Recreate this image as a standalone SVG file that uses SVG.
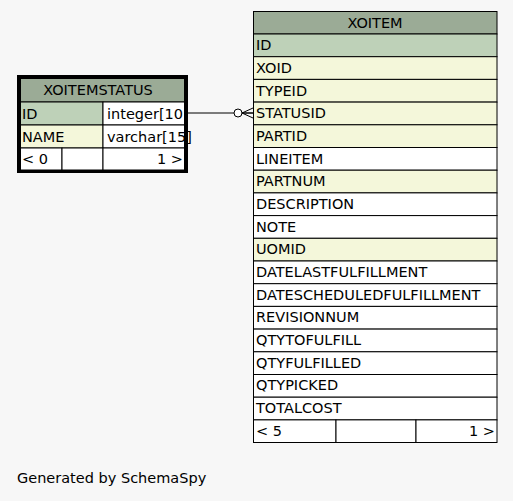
<svg xmlns="http://www.w3.org/2000/svg" width="513" height="501" viewBox="0 0 513 501">
<style>
text{font-family:"DejaVu Sans","Noto Sans",sans-serif;font-size:14.5px;fill:#000}
.c{stroke:#000;stroke-width:1}
.h{fill:#9bab96}
.k{fill:#bed1b8}
.y{fill:#f4f7da}
.w{fill:#fff}
.m{text-anchor:middle}
.r{text-anchor:end}
</style>
<rect width="513" height="501" fill="#f7f7f7"/>
<g id="connectors">
<line x1="187" y1="113" x2="253" y2="113" stroke="#000"/>
<circle cx="238" cy="113" r="4" fill="#fff" stroke="#000"/>
<path d="M242,113 L253,108 M242,113 L253,118 M242,113 L253,113" stroke="#000" fill="none"/>
</g>
<g id="XOITEMSTATUS">
<rect x="18.5" y="76.5" width="168" height="95" fill="none" stroke="#000" stroke-width="3"/>
<rect class="c h" x="20.5" y="78.5" width="164" height="23.5"/>
<text class="m" x="98" y="95">XOITEMSTATUS</text>
<rect class="c k" x="20.5" y="102" width="82.5" height="23"/>
<rect class="c w" x="103" y="102" width="81.5" height="23"/>
<text x="22" y="119">ID</text>
<text x="107" y="119">integer[10</text>
<rect class="c y" x="20.5" y="125" width="82.5" height="23"/>
<rect class="c w" x="103" y="125" width="81.5" height="23"/>
<text x="22" y="142">NAME</text>
<text x="107" y="142">varchar[15]</text>
<rect class="c w" x="20.5" y="148" width="41.5" height="22"/>
<rect class="c w" x="62" y="148" width="41" height="22"/>
<rect class="c w" x="103" y="148" width="81.5" height="22"/>
<text x="22" y="164">&lt; 0</text>
<text class="r" x="183" y="164">1 &gt;</text>
</g>
<g id="XOITEM">
<rect class="c h" x="253.5" y="11.5" width="243.5" height="22.5"/>
<text class="m" x="375" y="28">XOITEM</text>
<rect class="c k" x="253.5" y="34" width="243.5" height="22.7"/>
<text x="256" y="50">ID</text>
<rect class="c y" x="253.5" y="56.7" width="243.5" height="22.7"/>
<text x="256" y="73">XOID</text>
<rect class="c y" x="253.5" y="79.4" width="243.5" height="22.7"/>
<text x="256" y="96">TYPEID</text>
<rect class="c y" x="253.5" y="102.1" width="243.5" height="22.7"/>
<text x="256" y="118">STATUSID</text>
<rect class="c y" x="253.5" y="124.8" width="243.5" height="22.7"/>
<text x="256" y="141">PARTID</text>
<rect class="c w" x="253.5" y="147.5" width="243.5" height="22.7"/>
<text x="256" y="164">LINEITEM</text>
<rect class="c y" x="253.5" y="170.2" width="243.5" height="22.7"/>
<text x="256" y="186">PARTNUM</text>
<rect class="c w" x="253.5" y="192.9" width="243.5" height="22.7"/>
<text x="256" y="209">DESCRIPTION</text>
<rect class="c w" x="253.5" y="215.6" width="243.5" height="22.7"/>
<text x="256" y="232">NOTE</text>
<rect class="c y" x="253.5" y="238.3" width="243.5" height="22.7"/>
<text x="256" y="254">UOMID</text>
<rect class="c w" x="253.5" y="261" width="243.5" height="22.7"/>
<text x="256" y="277">DATELASTFULFILLMENT</text>
<rect class="c w" x="253.5" y="283.7" width="243.5" height="22.7"/>
<text x="256" y="300">DATESCHEDULEDFULFILLMENT</text>
<rect class="c w" x="253.5" y="306.4" width="243.5" height="22.7"/>
<text x="256" y="322">REVISIONNUM</text>
<rect class="c w" x="253.5" y="329.1" width="243.5" height="22.7"/>
<text x="256" y="345">QTYTOFULFILL</text>
<rect class="c w" x="253.5" y="351.8" width="243.5" height="22.7"/>
<text x="256" y="368">QTYFULFILLED</text>
<rect class="c w" x="253.5" y="374.5" width="243.5" height="22.7"/>
<text x="256" y="390">QTYPICKED</text>
<rect class="c w" x="253.5" y="397.2" width="243.5" height="22.7"/>
<text x="256" y="413">TOTALCOST</text>
<rect class="c w" x="253.5" y="419.9" width="82.5" height="22.6"/>
<rect class="c w" x="336" y="419.9" width="80" height="22.6"/>
<rect class="c w" x="416" y="419.9" width="81" height="22.6"/>
<text x="256" y="436">&lt; 5</text>
<text class="r" x="495" y="436">1 &gt;</text>
</g>
<text x="17" y="483">Generated by SchemaSpy</text>
</svg>
